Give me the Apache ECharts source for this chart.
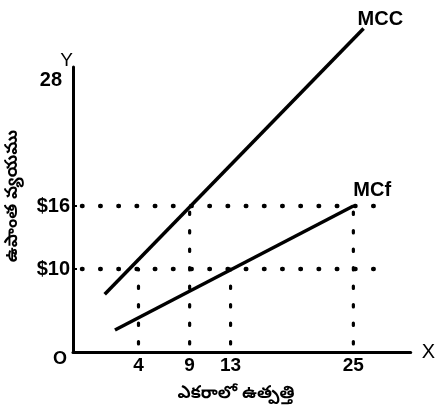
<!DOCTYPE html>
<html><head><meta charset="utf-8">
<script src="https://cdn.jsdelivr.net/npm/echarts@6/dist/echarts.min.js"></script>
<style>html,body{margin:0;padding:0;background:#fff}#c{width:438px;height:409px}</style>
</head><body><div id="c"></div>
<script>
// ---- data ----
const xTickValues = [4, 9, 13, 25];
const yTickValues = [10, 16, 28];
const yTickLabels = ['$10', '$16', '28'];
const mccX = [0.7, 26];
const mccY = [7.6, 32.9];
const mcfX = [1.7, 25];
const mcfY = [4.2, 16];
const dropX = [4, 9, 13, 25];
const dropY = [10, 16, 10, 16];
const levelY = [10, 16];
const levelEndX = 27.6;
const xTitle = 'ఎకరాలో ఉత్పత్తి';
const yTitle = 'ఉపాంత వ్యయము';
const originLabel = 'O';

// axis ranges
const X_MIN = -2.4, X_MAX = 30.6, Y_MIN = 2.1, Y_MAX = 29.24;

const FONT = '"Liberation Sans", Arial, sans-serif';
const TEL = '"Noto Sans Telugu", "Noto Sans", sans-serif';

const zip = (a, b) => a.map((v, i) => [v, b[i]]);

const series = [];
series.push({
  name: 'MCC', type: 'line', data: zip(mccX, mccY), symbol: 'none', clip: false,
  lineStyle: { color: '#000', width: 3.5 }, z: 5,
  endLabel: { show: true, formatter: '{a}', color: '#000', fontFamily: FONT, fontWeight: 'bold', fontSize: 20, offset: [-14, -9] }
});
series.push({
  name: 'MCf', type: 'line', data: zip(mcfX, mcfY), symbol: 'none', clip: false,
  lineStyle: { color: '#000', width: 3.5 }, z: 5,
  endLabel: { show: true, formatter: '{a}', color: '#000', fontFamily: FONT, fontWeight: 'bold', fontSize: 20, offset: [-8, -16] }
});
levelY.forEach(lv => series.push({
  type: 'line', data: [[X_MIN, lv], [levelEndX, lv]], symbol: 'none', silent: true,
  lineStyle: { color: '#000', width: 4.5, type: [0.5, 17.7], cap: 'round', dashOffset: -9 }
}));
dropX.forEach((x, i) => series.push({
  type: 'line', data: [[x, Y_MIN], [x, dropY[i]]], symbol: 'none', silent: true,
  lineStyle: { color: '#000', width: 3.2, type: [2.5, 16], cap: 'round', dashOffset: -8 }
}));

const chart = echarts.init(document.getElementById('c'), null, { renderer: 'canvas' });
chart.setOption({
  animation: false,
  backgroundColor: '#fff',
  grid: { left: 73, right: 25, top: 67, bottom: 57 },
  xAxis: {
    type: 'value', min: X_MIN, max: X_MAX,
    name: 'X', nameLocation: 'end', nameGap: 11,
    nameTextStyle: { color: '#000', fontFamily: FONT, fontSize: 20, verticalAlign: 'middle' },
    axisLine: { show: true, onZero: false, lineStyle: { color: '#000', width: 3 } },
    axisTick: { show: false },
    splitLine: { show: false },
    axisLabel: { customValues: xTickValues, color: '#000', fontFamily: FONT, fontWeight: 'bold', fontSize: 19, margin: 4 }
  },
  yAxis: {
    type: 'value', min: Y_MIN, max: Y_MAX,
    name: 'Y', nameLocation: 'end', nameGap: -2,
    nameTextStyle: { color: '#000', fontFamily: FONT, fontSize: 19, align: 'right', verticalAlign: 'middle' },
    axisLine: { show: true, onZero: false, lineStyle: { color: '#000', width: 3 } },
    axisTick: { show: true, inside: true, customValues: [10, 16], length: 4, lineStyle: { color: '#000', width: 2 } },
    splitLine: { show: false },
    axisLabel: {
      customValues: yTickValues, margin: 3,
      formatter: v => {
        const t = yTickLabels[yTickValues.indexOf(v)];
        return v === 28 ? '{f|' + t + '}' : '{n|' + t + '}';
      },
      rich: {
        n: { color: '#000', fontFamily: FONT, fontWeight: 'bold', fontSize: 20 },
        f: { color: '#000', fontFamily: FONT, fontWeight: 'bold', fontSize: 20, padding: [0, 8, 0, 0] }
      }
    }
  },
  series,
  graphic: [
    { type: 'text', left: 53, top: 350, style: { text: originLabel, fill: '#000', font: 'bold 18px ' + FONT } },
    { type: 'text', x: 236, y: 396, style: { text: xTitle, fill: '#000', font: 'bold 17px ' + TEL, align: 'center', verticalAlign: 'middle' } },
    { type: 'text', x: 15, y: 196, rotation: Math.PI / 2, style: { text: yTitle, fill: '#000', font: 'bold 17px ' + TEL, align: 'center', verticalAlign: 'middle' } }
  ]
});
</script>
</body></html>
